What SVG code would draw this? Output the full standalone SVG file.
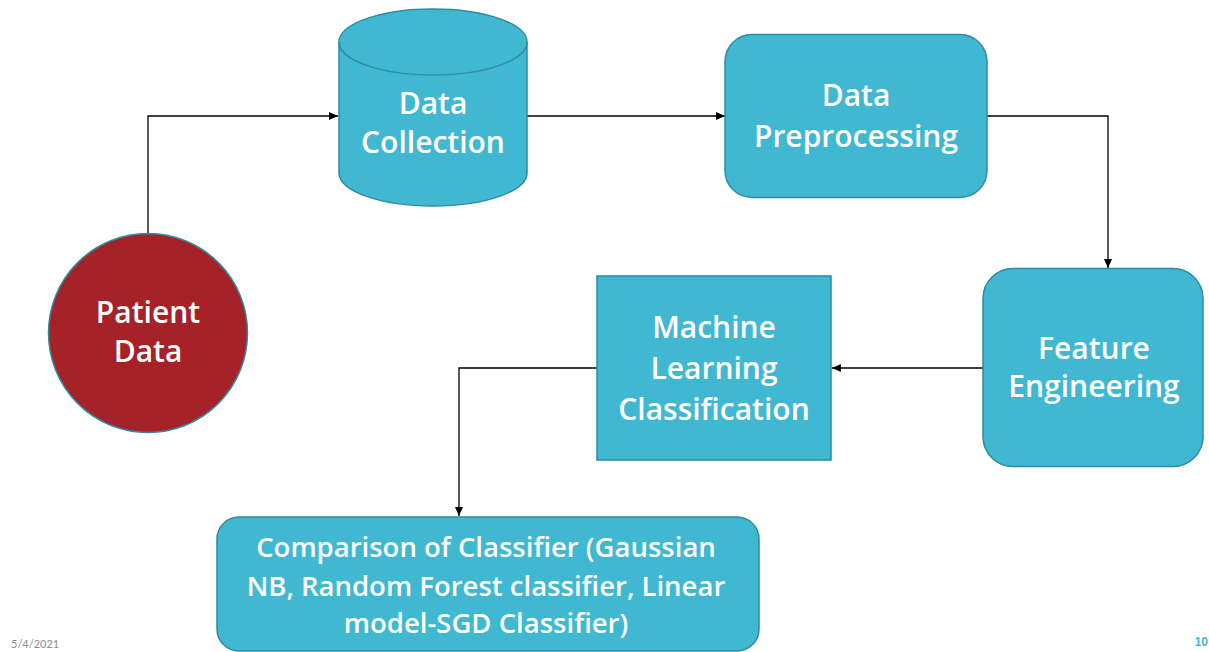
<svg xmlns="http://www.w3.org/2000/svg" width="1209" height="652" viewBox="0 0 1209 652">
<defs>
<style>
.node{fill:#41B8D2;stroke:#2E8BA1;stroke-width:1.5}
.lbl{font-family:"Open Sans","Noto Sans","DejaVu Sans",sans-serif;font-weight:600;font-size:30px;fill:#FFFFFF;text-anchor:middle}
.small{font-size:27.5px}
.conn{fill:none;stroke:#000000;stroke-width:1.3}
</style>
<marker id="arr" markerUnits="userSpaceOnUse" markerWidth="10" markerHeight="10" refX="9" refY="5" orient="auto">
<path d="M0,1 L9,5 L0,9 Z" fill="#000000"/>
</marker>
</defs>
<rect width="1209" height="652" fill="#FFFFFF"/>
<g id="connectors">
<path class="conn" d="M148,233 V116 H338" marker-end="url(#arr)"/>
<path class="conn" d="M527,116 H725" marker-end="url(#arr)"/>
<path class="conn" d="M987,116 H1108 V268" marker-end="url(#arr)"/>
<path class="conn" d="M983,368 H832" marker-end="url(#arr)"/>
<path class="conn" d="M597,368 H459 V516" marker-end="url(#arr)"/>
</g>
<g id="patient-data">
<circle cx="148" cy="333" r="99.5" fill="#A52228" stroke="#2E8BA1" stroke-width="1.5"/>
<text class="lbl" x="148" y="323">Patient</text>
<text class="lbl" x="148" y="362">Data</text>
</g>
<g id="data-collection">
<path class="node" d="M339,42 V173 A94,33 0 0 0 527,173 V42 A94,33 0 0 0 339,42 Z"/>
<path class="node" d="M339,42 A94,33 0 0 0 527,42" fill="none"/>
<text class="lbl" x="433" y="114">Data</text>
<text class="lbl" x="433" y="153">Collection</text>
</g>
<g id="data-preprocessing">
<rect class="node" x="725" y="34.5" width="262" height="163" rx="27"/>
<text class="lbl" x="856" y="106">Data</text>
<text class="lbl" x="856" y="147">Preprocessing</text>
</g>
<g id="feature-engineering">
<rect class="node" x="983" y="268.5" width="220" height="198" rx="30"/>
<text class="lbl" x="1094" y="359">Feature</text>
<text class="lbl" x="1094" y="397">Engineering</text>
</g>
<g id="ml-classification">
<rect class="node" x="597" y="276" width="234" height="184"/>
<text class="lbl" x="714" y="338">Machine</text>
<text class="lbl" x="714" y="379">Learning</text>
<text class="lbl" x="714" y="420">Classification</text>
</g>
<g id="comparison">
<rect class="node" x="217" y="517" width="542" height="134" rx="22"/>
<text class="lbl small" x="486" y="557">Comparison of Classifier (Gaussian</text>
<text class="lbl small" x="486" y="596">NB, Random Forest classifier, Linear</text>
<text class="lbl small" x="486" y="633">model-SGD Classifier)</text>
</g>
<g id="footer">
<text x="11" y="648" font-family="Lato,'Liberation Sans',sans-serif" font-size="11" fill="#8C8C8C">5/4/2021</text>
<text x="1208" y="646" font-family="'Liberation Sans',sans-serif" font-weight="bold" font-size="12" fill="#41B8D2" text-anchor="end">10</text>
</g>
</svg>
